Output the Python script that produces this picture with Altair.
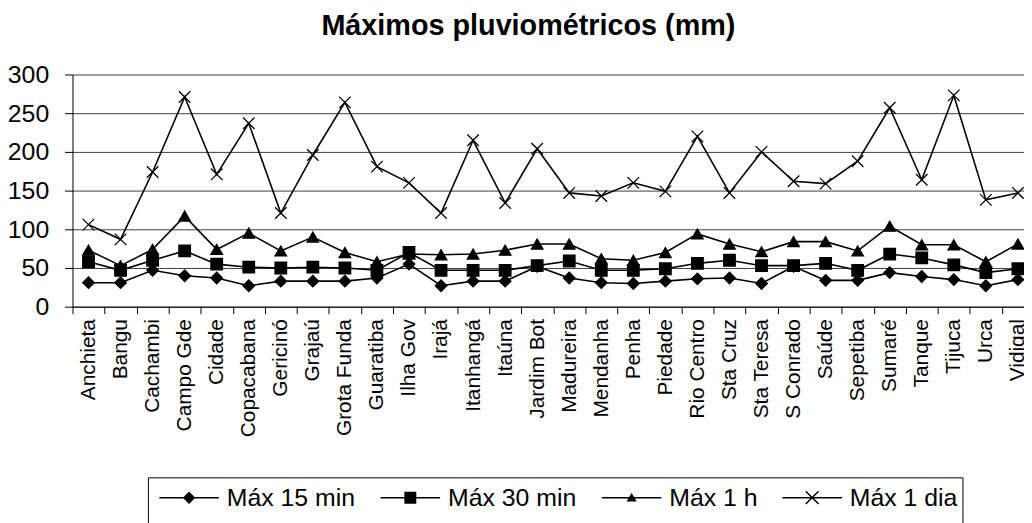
import math
import altair as alt
import pandas as pd

cats = ["Anchieta", "Bangu", "Cachambi", "Campo Gde", "Cidade", "Copacabana",
        "Gericinó", "Grajaú", "Grota Funda", "Guaratiba", "Ilha Gov", "Irajá",
        "Itanhangá", "Itaúna", "Jardim Bot", "Madureira", "Mendanha", "Penha",
        "Piedade", "Rio Centro", "Sta Cruz", "Sta Teresa", "S Conrado", "Saúde",
        "Sepetiba", "Sumaré", "Tanque", "Tijuca", "Urca", "Vidigal"]

max15 = [31, 31, 47, 40, 37, 27, 33, 33, 33, 37, 55, 27, 33, 33, 52,
         37, 31, 30, 33, 36, 37, 30, 52, 34, 34, 44, 39, 35, 27, 35]
max30 = [58, 47, 60, 72, 55, 51, 50, 51, 50, 47, 70, 47, 47, 47, 53,
         59, 47, 47, 49, 56, 60, 53, 53, 56, 47, 68, 63, 54, 44, 49]
max1h = [73, 53, 74, 117, 74, 95, 72, 90, 70, 58, 68, 67, 68, 73, 81,
         81, 62, 60, 70, 94, 81, 71, 84, 84, 72, 104, 80, 80, 58, 81]
max1d = [106, 87, 174, 271, 171, 237, 121, 196, 264, 181, 160, 121, 215, 134, 204,
         147, 143, 160, 149, 220, 147, 200, 162, 159, 188, 257, 164, 273, 138, 147]

series_names = ["Máx 15 min", "Máx 30 min", "Máx 1 h", "Máx 1 dia"]
y_ticks = [0, 50, 100, 150, 200, 250, 300]

rows = []
for name, vals in zip(series_names, [max15, max30, max1h, max1d]):
    for c, v in zip(cats, vals):
        rows.append({"local": c, "serie": name, "mm": v})
df = pd.DataFrame(rows)

FONT = "Liberation Sans"


def poly(pts):
    # keep every sub-path with the same winding so that overlaps stay filled
    area = sum(pts[i][0] * pts[(i + 1) % len(pts)][1] - pts[(i + 1) % len(pts)][0] * pts[i][1]
               for i in range(len(pts)))
    if area > 0:
        pts = pts[::-1]
    return "M" + "L".join(f"{x:.3f},{y:.3f}" for x, y in pts) + "Z"


def seg(p, q, w=0.05):
    dx, dy = q[0] - p[0], q[1] - p[1]
    n = math.hypot(dx, dy)
    nx, ny = -dy / n * w, dx / n * w
    return poly([(p[0] + nx, p[1] + ny), (q[0] + nx, q[1] + ny),
                 (q[0] - nx, q[1] - ny), (p[0] - nx, p[1] - ny)])


LINE = seg((-2, 0), (2, 0))
marker_shapes = ["diamond", "square", "triangle-up", "M-1,-1L1,1M-1,1L1,-1"]
legend_shapes = [
    LINE + poly([(-0.42, 0), (0, -0.42), (0.42, 0), (0, 0.42)]),
    LINE + poly([(-0.4, -0.4), (0.4, -0.4), (0.4, 0.4), (-0.4, 0.4)]),
    LINE + poly([(0, -0.32), (0.34, 0.26), (-0.34, 0.26)]),
    LINE + seg((-0.43, -0.43), (0.43, 0.43)) + seg((-0.43, 0.43), (0.43, -0.43)),
]

x_enc = alt.X(
    "local:N", sort=cats,
    scale=alt.Scale(type="band", range=[0, 969], paddingInner=0, paddingOuter=0),
    axis=alt.Axis(title=None, labelAngle=270, labelFont=FONT, labelFontSize=21,
                  labelColor="black", tickSize=7, tickColor="black",
                  domainColor="black", labelPadding=5, tickBand="extent",
                  grid=False, labelLimit=300),
)
y_enc = alt.Y(
    "mm:Q", scale=alt.Scale(domain=[0, 300], nice=False),
    axis=alt.Axis(title=None, values=y_ticks, labelFont=FONT, labelFontSize=25,
                  labelColor="black", tickSize=8, tickColor="black",
                  domainColor="black", labelPadding=16, grid=True,
                  gridColor="#404040", gridWidth=1),
)

base = alt.Chart(df)

lines = base.mark_line(color="black", strokeWidth=1.6).encode(
    x=x_enc, y=y_enc, detail="serie:N"
)

points = base.mark_point(filled=True, color="black", stroke="black",
                         strokeWidth=1.3, size=135, opacity=1).encode(
    x=x_enc, y=y_enc,
    shape=alt.Shape("serie:N",
                    scale=alt.Scale(domain=series_names, range=marker_shapes),
                    legend=None),
)

legend_layer = base.transform_filter("datum.mm < 0").mark_point(
    filled=True, color="black", opacity=1
).encode(
    x=x_enc, y=y_enc,
    shape=alt.Shape("serie:N",
                    scale=alt.Scale(domain=series_names, range=legend_shapes),
                    legend=alt.Legend(
                        title=" ", titleOrient="bottom", titleFontSize=10,
                        titlePadding=4,
                        orient="none", legendX=76, legendY=406,
                        direction="horizontal",
                        strokeColor="black", fillColor="white", padding=4.5,
                        symbolSize=900, symbolOffset=21, labelOffset=22,
                        columnPadding=18, symbolFillColor="black",
                        labelFont=FONT, labelFontSize=25, labelColor="black",
                        labelLimit=300,
                    )),
)

chart = alt.layer(lines, points, legend_layer).resolve_scale(
    shape="independent"
).properties(
    width=959, height=234,
    title=alt.TitleParams("Máximos pluviométricos (mm)", font=FONT, fontSize=29,
                          fontWeight="bold", color="black", anchor="middle",
                          dx=-20, offset=-1, baseline="alphabetic"),
    autosize=alt.AutoSizeParams(type="none"),
    padding={"left": 65, "top": 65, "right": 0, "bottom": 216},
    background="white",
).configure_view(stroke="transparent")

chart.save("out.html", embed_options={"renderer": "svg", "actions": False})
